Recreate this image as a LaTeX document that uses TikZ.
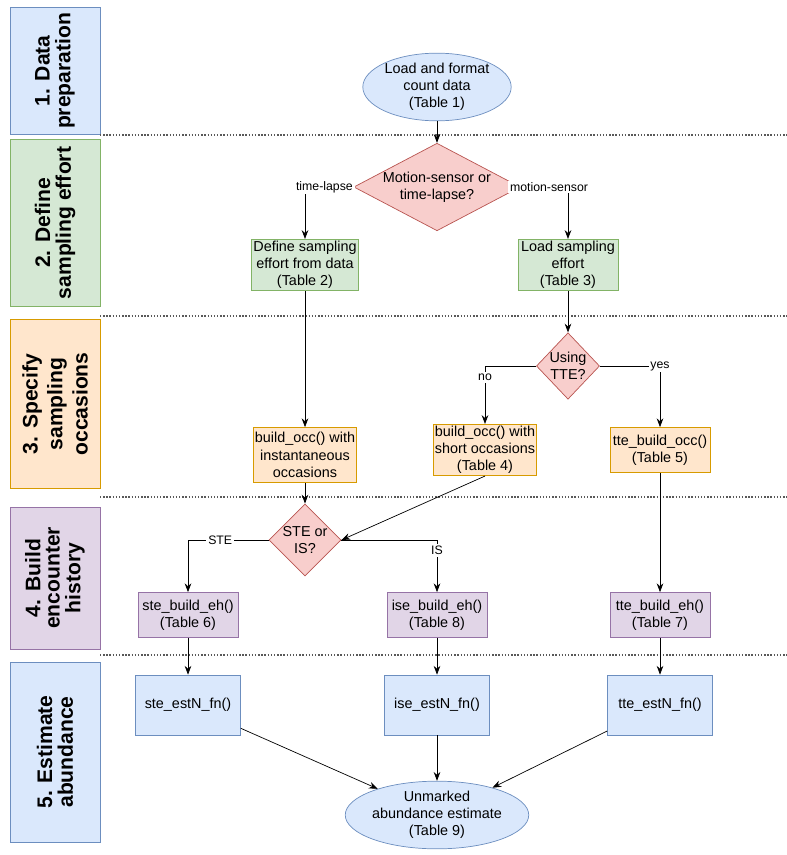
\documentclass[tikz,border=0pt]{standalone}
\usepackage{fontspec}
\setmainfont{Liberation Sans}
\usetikzlibrary{shapes.geometric,arrows.meta}

\definecolor{bluef}{HTML}{DAE8FC}\definecolor{blued}{HTML}{6C8EBF}
\definecolor{greenf}{HTML}{D5E8D4}\definecolor{greend}{HTML}{82B366}
\definecolor{orangef}{HTML}{FFE6CC}\definecolor{oranged}{HTML}{D79B00}
\definecolor{purplef}{HTML}{E1D5E7}\definecolor{purpled}{HTML}{9673A6}
\definecolor{redf}{HTML}{F8CECC}\definecolor{redd}{HTML}{B85450}

\tikzset{
  box/.style={draw, rectangle, align=center, inner sep=1pt, font=\fontsize{8.2}{9.8}\selectfont},
  bl/.style={box, fill=bluef, draw=blued},
  gr/.style={box, fill=greenf, draw=greend, minimum width=2cm, minimum height=0.9cm},
  og/.style={box, fill=orangef, draw=oranged, minimum width=2cm, minimum height=0.9cm},
  pu/.style={box, fill=purplef, draw=purpled, minimum width=2cm, minimum height=0.9cm},
  est/.style={bl, minimum width=2.1cm, minimum height=1.2cm},
  oval/.style={box, ellipse, fill=bluef, draw=blued, minimum width=2.5cm, minimum height=1.2cm, inner sep=0pt},
  dec/.style={box, diamond, fill=redf, draw=redd, aspect=1.6, inner sep=0pt},
  lane/.style={draw=blued, fill=bluef, minimum width=1.8cm, align=center,
    font=\fontsize{12}{14}\selectfont\bfseries},
  lab/.style={fill=white, inner sep=1pt, font=\fontsize{7}{8.5}\selectfont},
  sep/.style={densely dotted, thick, gray!70!black}
}

\begin{document}
\begin{tikzpicture}[x=0.02cm, y=-0.02cm, >={Stealth[length=5pt]}]
\useasboundingbox (0,0) rectangle (787,855);

% swimlanes
\node[lane, minimum height=2.44cm] (l1) at (55,71) {\rotatebox{90}{\shortstack{1. Data\\preparation}}};
\node[lane, draw=greend, fill=greenf, minimum height=3.34cm] (l2) at (55,223) {\rotatebox{90}{\shortstack{2. Define\\sampling effort}}};
\node[lane, draw=oranged, fill=orangef, minimum height=3.38cm] (l3) at (55,404) {\rotatebox{90}{\shortstack{3. Specify\\sampling\\occasions}}};
\node[lane, draw=purpled, fill=purplef, minimum height=2.84cm] (l4) at (55,578) {\rotatebox{90}{\shortstack{4. Build\\encounter\\history}}};
\node[lane, minimum height=3.6cm] (l5) at (55,752) {\rotatebox{90}{\shortstack{5. Estimate\\abundance}}};

\foreach \y in {135,316,497,655}
  \draw[sep] (100,\y) -- (787,\y);

% nodes
\node[oval] (load) at (437,87) {Load and format\\count data\\(Table 1)};
\node[dec, minimum width=2.8cm, aspect=1.9] (mode) at (437,187) {Motion-sensor or\\time-lapse?};
\node[gr] (defeff) at (305,265) {Define sampling\\effort from data\\(Table 2)};
\node[gr] (loadeff) at (568,265) {Load sampling\\effort\\(Table 3)};
\node[dec, minimum width=1.25cm, aspect=0.95] (tte) at (568,366) {Using\\TTE?};
\node[og, minimum height=1.1cm] (occinst) at (305,455) {build\_occ() with\\instantaneous\\occasions};
\node[og] (occshort) at (485,450) {build\_occ() with\\short occasions\\(Table 4)};
\node[og] (occtte) at (660,450) {tte\_build\_occ()\\(Table 5)};
\node[dec, minimum width=1.3cm, aspect=1] (steis) at (305,540) {STE or\\IS?};
\node[pu] (ehste) at (188,615) {ste\_build\_eh()\\(Table 6)};
\node[pu] (ehise) at (437,615) {ise\_build\_eh()\\(Table 8)};
\node[pu] (ehtte) at (660,615) {tte\_build\_eh()\\(Table 7)};
\node[est] (nste) at (188,705) {ste\_estN\_fn()};
\node[est] (nise) at (437,705) {ise\_estN\_fn()};
\node[est] (ntte) at (660,705) {tte\_estN\_fn()};
\node[oval, minimum width=2.4cm] (final) at (437,815) {Unmarked\\abundance estimate\\(Table 9)};

% connectors
\draw[->] (load) -- (mode);
\draw[->] (mode.west) -| node[lab, pos=0.3] {time-lapse} (defeff);
\draw[->] (mode.east) -| node[lab, pos=0.3] {motion-sensor} (loadeff);
\draw[->] (defeff) -- (occinst);
\draw[->] (loadeff) -- (tte);
\draw[->] (tte.west) -| node[lab, pos=0.6] {no} (occshort);
\draw[->] (tte.east) -| node[lab, pos=0.5] {yes} (occtte);
\draw[->] (occinst) -- (steis);
\draw[->] (occshort.south) -- (steis.east);
\draw[->] (steis.west) -| node[lab, pos=0.3] {STE} (ehste);
\draw[->] (steis.east) -| node[lab, pos=0.6] {IS} (ehise);
\draw[->] (occtte) -- (ehtte);
\draw[->] (ehste) -- (nste);
\draw[->] (ehise) -- (nise);
\draw[->] (ehtte) -- (ntte);
\draw[->] (nste) -- (final);
\draw[->] (nise) -- (final);
\draw[->] (ntte) -- (final);
\end{tikzpicture}
\end{document}
